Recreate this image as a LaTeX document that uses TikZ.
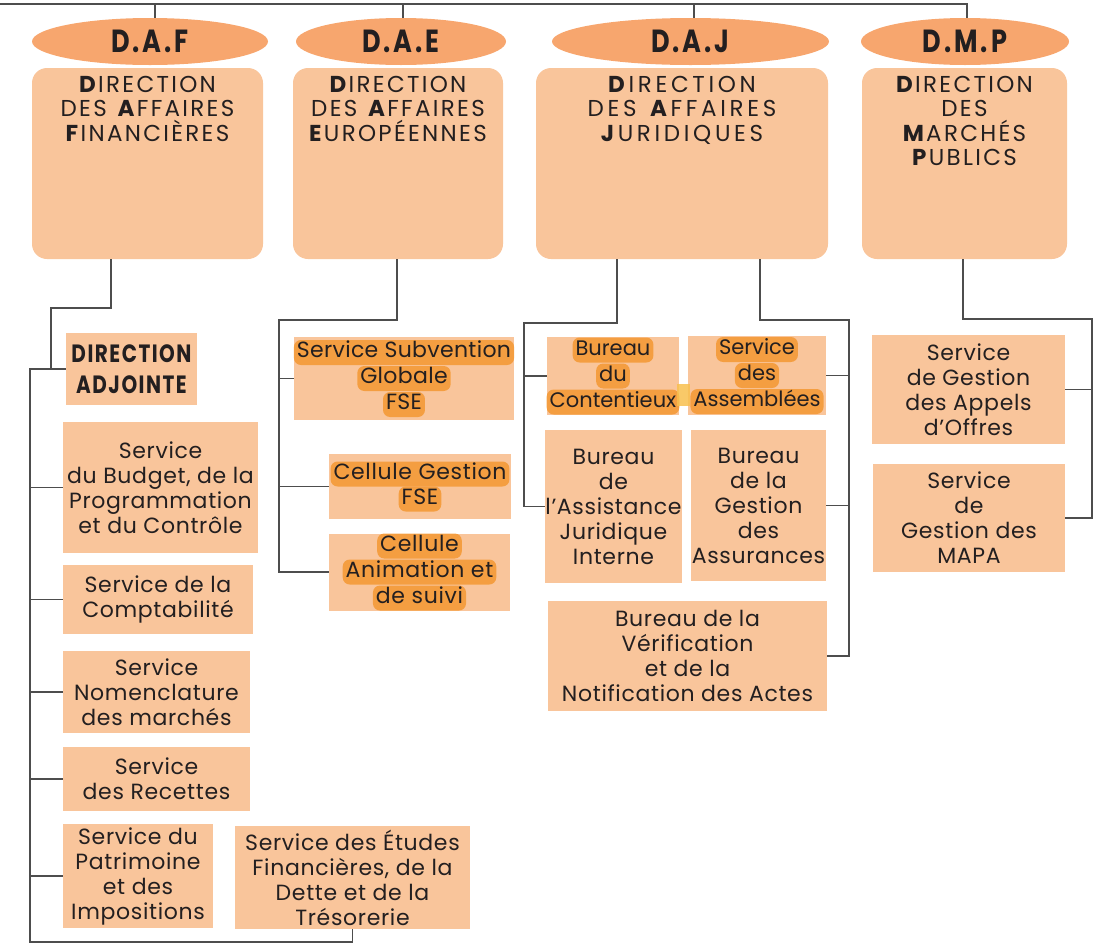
\documentclass[tikz,border=0pt]{standalone}
\usepackage{fontspec}
\setmainfont{Poppins}
\newfontfamily\headfont{Poppins}[LetterSpace=10]
\newfontfamily\headwide{Poppins}[LetterSpace=16]
\newfontfamily\svcfont{Poppins}[LetterSpace=3]
\newfontfamily\svcmid{Poppins}[LetterSpace=1.5]
\newfontfamily\svcnarrow{Poppins}
\newfontfamily\condfont{Poppins}[FakeStretch=0.8,LetterSpace=9]
\newfontfamily\adjfont{Poppins}[FakeStretch=0.8,LetterSpace=6]
\usetikzlibrary{shapes.geometric,calc}
\definecolor{boxfill}{HTML}{F9C59B}
\definecolor{ellfill}{HTML}{F7A66E}
\definecolor{hlcol}{HTML}{F49832}
\definecolor{band}{HTML}{F8C04E}
\definecolor{linecol}{HTML}{4D4D4D}
\definecolor{txt}{HTML}{231F20}
\newcommand\hl[1]{\tikz[baseline=(hlnode.base)]\node[hlbox](hlnode){#1};}
\tikzset{
 conn/.style={draw=linecol,line width=1.2pt},
 svc/.style={rectangle,fill=boxfill,text=txt,align=center,inner sep=0pt,font=\svcfont\fontsize{22}{25}\selectfont},
 big/.style={rectangle,rounded corners=15pt,fill=boxfill,inner sep=0pt,minimum height=191pt},
 ell/.style={ellipse,fill=ellfill,inner sep=0pt,text=txt,font=\condfont\bfseries\fontsize{32}{33}\selectfont,minimum height=47pt},
 head/.style={anchor=north,align=center,inner sep=0pt,text=txt,font=\headfont\fontsize{23}{24.5}\selectfont},
 adjstyle/.style={rectangle,fill=boxfill,text=txt,align=center,inner sep=0pt,font=\adjfont\bfseries\fontsize{25}{31}\selectfont},
 hlbox/.style={rectangle,fill=hlcol,fill opacity=0.85,text opacity=1,rounded corners=7pt,minimum width=0pt,minimum height=0pt,inner xsep=3pt,inner ysep=0pt,text height=17.5pt,text depth=7.5pt},
}
\begin{document}
\begin{tikzpicture}[x=1pt,y=-1pt]
\useasboundingbox (0,0) rectangle (1101,943);
% ellipses
\node[ell,minimum width=236pt] (dafE) at (150,41.5) {D.A.F};
\node[ell,minimum width=210pt] (daeE) at (401,41.5) {D.A.E};
\node[ell,minimum width=277pt] (dajE) at (690.5,41.5) {D.A.J};
\node[ell,minimum width=208pt] (dmpE) at (965,41.5) {D.M.P};
% big boxes
\node[big,minimum width=231pt] (dafB) at (147.5,163.5) {};
\node[big,minimum width=210pt] (daeB) at (398,163.5) {};
\node[big,minimum width=292pt] (dajB) at (682,163.5) {};
\node[big,minimum width=205pt] (dmpB) at (964.5,163.5) {};
\node[head] (dafT) at (147.5,76) {\textbf{D}IRECTION\\DES \textbf{A}FFAIRES\\\textbf{F}INANCIÈRES};
\node[head] (daeT) at (398,76) {\textbf{D}IRECTION\\DES \textbf{A}FFAIRES\\\textbf{E}UROPÉENNES};
\node[head,font=\headwide\fontsize{23}{24.5}\selectfont] (dajT) at (682,76) {\textbf{D}IRECTION\\DES \textbf{A}FFAIRES\\\textbf{J}URIDIQUES};
\node[head] (dmpT) at (964.5,76) {\textbf{D}IRECTION\\DES\\\textbf{M}ARCHÉS\\\textbf{P}UBLICS};
% DAF services
\node[adjstyle,minimum width=131pt,minimum height=72pt] (adj) at (131.5,369) {DIRECTION\\ADJOINTE};
\node[svc,minimum width=195pt,minimum height=131pt] (budget) at (160.5,487.5) {Service\\du Budget, de la\\Programmation\\et du Contrôle};
\node[svc,minimum width=190pt,minimum height=69pt] (compta) at (158,599.5) {Service de la\\Comptabilité};
\node[svc,minimum width=187pt,minimum height=82pt] (nomen) at (156.5,692) {Service\\Nomenclature\\des marchés};
\node[svc,minimum width=187pt,minimum height=64pt] (recet) at (156.5,779) {Service\\des Recettes};
\node[svc,minimum width=150pt,minimum height=104pt] (patri) at (138,876) {Service du\\Patrimoine\\et des\\Impositions};
\node[svc,minimum width=235pt,minimum height=103pt] (etudes) at (352.5,877.5) {Service des Études\\Financières, de la\\Dette et de la\\Trésorerie};
% DAE services
\node[svc,font=\svcmid\fontsize{22}{24}\selectfont,minimum width=220pt,minimum height=83pt] (subv) at (404,378.5) {\hl{Service Subvention}\\\hl{Globale}\\\hl{FSE}};
\node[svc,minimum width=182pt,minimum height=65pt] (cgest) at (420,486.5) {\hl{Cellule Gestion}\\\hl{FSE}};
\node[svc,font=\svcfont\fontsize{22}{24}\selectfont,minimum width=181pt,minimum height=68pt] (canim) at (419.5,572) {\hl{Cellule}\\\hl{Animation et}\\\hl{de suivi}};
% DAJ services
\node[svc,font=\svcnarrow\fontsize{21}{23.5}\selectfont,minimum width=132pt,minimum height=78pt] (cont) at (613,376) {\hl{Bureau}\\\hl{du}\\\hl{Contentieux}};
\node[svc,font=\svcnarrow\fontsize{21}{23.5}\selectfont,minimum width=138pt,minimum height=79pt] (assem) at (757,375.5) {\hl{Service}\\\hl{des}\\\hl{Assemblées}};
\fill[band,opacity=0.85] (677,384) rectangle (690,406);
\node[svc,minimum width=135pt,minimum height=153pt] (assist) at (613.5,506.5) {Bureau\\de\\l’Assistance\\Juridique\\Interne};
\node[svc,minimum width=135pt,minimum height=151pt] (assur) at (758.5,505.5) {Bureau\\de la\\Gestion\\des\\Assurances};
\node[svc,minimum width=279pt,minimum height=110pt] (verif) at (687.5,656) {Bureau de la\\Vérification\\et de la\\Notification des Actes};
% DMP services
\node[svc,minimum width=193pt,minimum height=109pt] (appels) at (968.5,389.5) {Service\\de Gestion\\des Appels\\d’Offres};
\node[svc,minimum width=192pt,minimum height=108pt] (mapa) at (969,518) {Service\\de\\Gestion des\\MAPA};
% top connectors
\coordinate (topL) at (0,4);
\draw[conn] (topL) -| ([xshift=2pt]dmpE.north);
\draw[conn] ([xshift=5pt]dafE.north) -- ([xshift=5pt]dafE.north |- topL);
\draw[conn] ([xshift=2pt]daeE.north) -- ([xshift=2pt]daeE.north |- topL);
\draw[conn] ([xshift=3.5pt]dajE.north) -- ([xshift=3.5pt]dajE.north |- topL);
% DAF connectors
\coordinate (dafK) at (51,308);
\coordinate (dafTr) at (30,942);
\draw[conn] ([xshift=-36.5pt]dafB.south) |- (dafK) |- (adj.west);
\draw[conn] (adj.west) -| (dafTr) -| (etudes.south);
\foreach \n in {budget,compta,nomen,recet,patri} \draw[conn] (\n.west) -- (\n.west -| dafTr);
% DAE connectors
\coordinate (daeK) at (279,320);
\draw[conn] ([xshift=-1pt]daeB.south) |- (daeK) |- (canim.west);
\foreach \n in {subv,cgest} \draw[conn] (\n.west) -- (\n.west -| daeK);
% DAJ connectors
\coordinate (dajL) at (524,323);
\coordinate (dajR) at (849,320);
\draw[conn] ([xshift=-65pt]dajB.south) |- (dajL) |- (assist.west);
\draw[conn] (cont.west) -- (cont.west -| dajL);
\draw[conn] ([xshift=78pt]dajB.south) |- (dajR) |- (verif.east);
\foreach \n in {assem,assur} \draw[conn] (\n.east) -- (\n.east -| dajR);
% DMP connectors
\coordinate (dmpR) at (1092,319);
\draw[conn] ([xshift=-1.5pt]dmpB.south) |- (dmpR) |- (mapa.east);
\draw[conn] (appels.east) -- (appels.east -| dmpR);
\end{tikzpicture}
\end{document}
